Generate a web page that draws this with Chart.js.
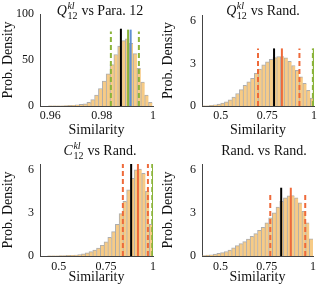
<!DOCTYPE html>
<html>
<head>
<meta charset="utf-8">
<script src="https://cdn.jsdelivr.net/npm/chart.js@4.4.0/dist/chart.umd.min.js"></script>
<style>
  body { margin: 0; background: #fff; }
  #wrap { position: relative; width: 320px; height: 286px; overflow: hidden; }
  canvas { position: absolute; }
</style>
</head>
<body>
<div id="wrap">
  <canvas id="c1" width="160" height="143" style="left:0;top:0"></canvas>
  <canvas id="c2" width="160" height="143" style="left:160px;top:0"></canvas>
  <canvas id="c3" width="160" height="153" style="left:0;top:133px"></canvas>
  <canvas id="c4" width="160" height="153" style="left:160px;top:133px"></canvas>
</div>
<script>
// histogram bin centres and densities
const binsPara = [0.9600, 0.9615, 0.9630, 0.9645, 0.9660, 0.9675, 0.9690, 0.9705, 0.9720, 0.9735,
  0.9750, 0.9765, 0.9780, 0.9795, 0.9810, 0.9825, 0.9840, 0.9855, 0.9870, 0.9885,
  0.9900, 0.9915, 0.9930, 0.9945, 0.9960, 0.9975, 0.9990];
const densPara = [0.1, 0.2, 0.2, 0.3, 0.4, 0.6, 0.8, 1.2, 1.7, 2.4,
  4, 7, 12, 19, 27, 35, 45, 56, 65, 71,
  73, 68, 57, 41, 26, 12, 4];

const binsRand = [0.41, 0.43, 0.45, 0.47, 0.49, 0.51, 0.53, 0.55, 0.57, 0.59,
  0.61, 0.63, 0.65, 0.67, 0.69, 0.71, 0.73, 0.75, 0.77, 0.79,
  0.81, 0.83, 0.85, 0.87, 0.89, 0.91, 0.93, 0.95, 0.97, 0.99];
const densQRand = [0.01, 0.02, 0.04, 0.08, 0.13, 0.2, 0.3, 0.44, 0.62, 0.88,
  1.15, 1.45, 1.7, 1.95, 2.3, 2.6, 2.9, 3.1, 3.28, 3.4,
  3.48, 3.48, 3.38, 3.15, 2.85, 2.5, 2.05, 1.6, 1.1, 0.55];
const densCRand = [0, 0, 0.01, 0.01, 0.02, 0.03, 0.03, 0.04, 0.05, 0.07,
  0.1, 0.15, 0.22, 0.3, 0.42, 0.55, 0.75, 0.98, 1.3, 1.7,
  2.2, 2.95, 3.8, 4.6, 5.4, 6.0, 6.05, 5.75, 4.5, 2.2];
const densRR = [0.03, 0.06, 0.09, 0.13, 0.18, 0.24, 0.31, 0.42, 0.56, 0.72,
  0.86, 1.0, 1.17, 1.36, 1.56, 1.78, 2.0, 2.3, 2.65, 3.0,
  3.4, 3.8, 4.05, 4.18, 4.2, 4.05, 3.7, 3.1, 2.3, 1.2];

// vertical marker lines: position and height
const paraMarkX = [0.9836, 0.9903, 0.9913, 0.9945, 0.9875];
const paraMarkH = [81, 83, 83, 81, 84];
const qRandMarkX = [0.70, 0.828, 0.922, 0.994, 0.999, 0.786];
const qRandMarkH = [4.05, 4.05, 4.05, 4.05, 4.05, 4.05];
const cRandMarkX = [0.84, 0.92, 0.973, 0.996, 1.0, 0.884];
const cRandMarkH = [6.4, 6.4, 6.4, 6.4, 6.4, 6.4];
const rrMarkX = [0.769, 0.88, 0.958, 0.828];
const rrMarkH = [4.4, 4.75, 4.4, 4.75];

// ticks
const xTicksPara = [0.96, 0.98, 1];
const xTicksRand = [0.5, 0.75, 1];
const yTicksPara = [0, 50, 100];
const yTicksRand = [0, 3, 6];

// titles
const titleBase = ["Q", "Q", "C", ""];
const titleSup = ["kl", "kl", "kl", ""];
const titleSub = ["12", "12", "12", ""];
const titleRest = [" vs Para. 12", " vs Rand.", " vs Rand.", "Rand. vs Rand."];
const xLabel = "Similarity";
const yLabel = "Prob. Density";

const FONT = '"Liberation Serif", serif';
Chart.defaults.font.family = FONT;
Chart.defaults.color = "#111";

const markStyles = {
  k: { color: "#000000", dash: [] },
  r: { color: "#EE6A3A", dash: [] },
  rd: { color: "#EE6A3A", dash: [5, 3] },
  g: { color: "#8BB43A", dash: [] },
  gd: { color: "#8BB43A", dash: [5, 3] },
  b: { color: "#5E8ED2", dash: [] },
};

const mathTitle = {
  id: "mathTitle",
  afterDraw(chart, args, opts) {
    const ctx = chart.ctx;
    ctx.save();
    ctx.fillStyle = "#111";
    ctx.textBaseline = "alphabetic";
    const big = "14px " + FONT;
    const small = "10px " + FONT;
    let wBase = 0, wScript = 0;
    if (opts.base) {
      ctx.font = "italic " + big;
      wBase = ctx.measureText(opts.base).width;
      ctx.font = "italic " + small;
      const a = ctx.measureText(opts.sup).width;
      ctx.font = small;
      const b = ctx.measureText(opts.sub).width;
      wScript = Math.max(a, b) + 1;
    }
    ctx.font = big;
    const wRest = ctx.measureText(opts.rest).width;
    let x = opts.x - (wBase + wScript + wRest) / 2;
    const y = opts.y;
    if (opts.base) {
      ctx.font = "italic " + big;
      ctx.fillText(opts.base, x, y);
      x += wBase + 0.5;
      ctx.font = "italic " + small;
      ctx.fillText(opts.sup, x, y - 6);
      ctx.font = small;
      ctx.fillText(opts.sub, x, y + 3.5);
      x += wScript - 0.5;
    }
    ctx.font = big;
    ctx.fillText(opts.rest, x, y);
    ctx.restore();
  },
};

function makeHist(id, p) {
  const datasets = [{
    type: "bar",
    data: p.bins.map((b, i) => ({ x: b, y: p.dens[i] })),
    backgroundColor: "#F7CB86",
    borderColor: "rgba(130,130,130,0.65)",
    borderWidth: { left: 1, top: 1, right: 0, bottom: 0 },
    borderSkipped: false,
    barPercentage: 1,
    categoryPercentage: 1,
    order: 2,
  }];
  p.markX.forEach((mx, i) => {
    const st = markStyles[p.markStyle[i]];
    datasets.push({
      type: "line",
      data: [{ x: mx, y: 0 }, { x: mx, y: p.markH[i] }],
      borderColor: st.color,
      borderWidth: 2,
      borderDash: st.dash,
      pointRadius: 0,
      order: 1,
    });
  });
  return new Chart(document.getElementById(id), {
    type: "bar",
    data: { datasets: datasets },
    plugins: [mathTitle],
    options: {
      responsive: false,
      animation: false,
      layout: { padding: p.pad },
      plugins: {
        legend: { display: false },
        tooltip: { enabled: false },
        mathTitle: p.title,
      },
      scales: {
        x: {
          type: "linear",
          min: p.xmin,
          max: p.xmax,
          offset: false,
          grid: { display: false, drawTicks: false, offset: false },
          border: { display: true, color: "#444", width: 1 },
          ticks: { font: { size: 12 }, padding: p.xTickPad, maxRotation: 0, autoSkip: false, callback: (v) => String(v) },
          afterBuildTicks: (s) => { s.ticks = p.xTicks.map((v) => ({ value: v })); },
          afterFit: (s) => { s.height = p.xh; },
          title: { display: true, text: xLabel, font: { size: 14 }, padding: { top: 0, bottom: p.xTitlePad } },
        },
        y: {
          min: 0,
          max: p.ymax,
          grid: { display: false, drawTicks: false },
          border: { display: true, color: "#444", width: 1 },
          ticks: { font: { size: 12 }, padding: 6, callback: (v) => String(v) },
          afterBuildTicks: (s) => { s.ticks = p.yTicks.map((v) => ({ value: v })); },
          afterFit: (s) => { s.width = p.yw; },
          title: { display: true, text: yLabel, font: { size: 14 }, padding: { top: 0, bottom: 0 } },
        },
      },
    },
  });
}

function titleOpts(i, x, y) {
  return { base: titleBase[i], sup: titleSup[i], sub: titleSub[i], rest: titleRest[i], x: x, y: y };
}

makeHist("c1", {
  bins: binsPara, dens: densPara,
  markX: paraMarkX, markH: paraMarkH, markStyle: ["gd", "g", "b", "gd", "k"],
  xmin: 0.956, xmax: 1.0, ymax: 100, xTicks: xTicksPara, yTicks: yTicksPara,
  pad: { left: 0, top: 14, right: 7, bottom: 0 }, yw: 40, xh: 37, xTickPad: 3, xTitlePad: 4.6,
  title: titleOpts(0, 100, 15),
});
makeHist("c2", {
  bins: binsRand, dens: densQRand,
  markX: qRandMarkX, markH: qRandMarkH, markStyle: ["rd", "r", "rd", "gd", "g", "k"],
  xmin: 0.4, xmax: 1.0, ymax: 6.4, xTicks: xTicksRand, yTicks: yTicksRand,
  pad: { left: 0, top: 15, right: 3, bottom: 0 }, yw: 42, xh: 37, xTickPad: 3, xTitlePad: 4.6,
  title: titleOpts(1, 103, 15),
});
makeHist("c3", {
  bins: binsRand, dens: densCRand,
  markX: cRandMarkX, markH: cRandMarkH, markStyle: ["rd", "r", "rd", "gd", "g", "k"],
  xmin: 0.4, xmax: 1.0, ymax: 6.4, xTicks: xTicksRand, yTicks: yTicksRand,
  pad: { left: 0, top: 31, right: 7, bottom: 0 }, yw: 40, xh: 30, xTickPad: 4, xTitlePad: 0,
  title: titleOpts(2, 100, 22),
});
makeHist("c4", {
  bins: binsRand, dens: densRR,
  markX: rrMarkX, markH: rrMarkH, markStyle: ["rd", "r", "rd", "k"],
  xmin: 0.4, xmax: 1.0, ymax: 6.4, xTicks: xTicksRand, yTicks: yTicksRand,
  pad: { left: 0, top: 31, right: 3, bottom: 0 }, yw: 42, xh: 30, xTickPad: 4, xTitlePad: 0,
  title: titleOpts(3, 104, 22),
});
</script>
</body>
</html>
